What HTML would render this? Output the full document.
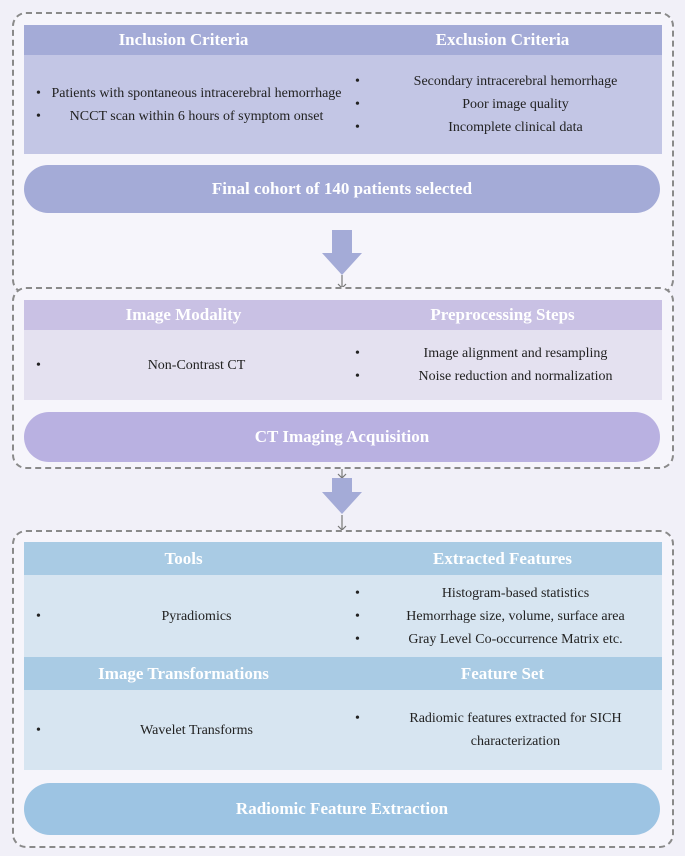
<!DOCTYPE html>
<html><head><style>
body{margin:0;width:685px;height:856px;background:#f1f0f8;font-family:"Liberation Serif",serif;position:relative;overflow:hidden}
.d{position:absolute;border:2px dashed #8a8a8a;border-radius:14px;background:#f6f5fb}
.a{position:absolute;left:24px;width:638px}
.h{color:#fff;font-weight:bold;font-size:17px;display:flex}
.h div{width:50%;text-align:center}
.b{font-size:14px;color:#222;display:flex}
.c{width:50%;position:relative;display:flex;flex-direction:column;justify-content:center;text-align:center;line-height:23px}
.li{position:relative;padding-left:26px}
.li:before{content:"•";position:absolute;left:12px}
.p{position:absolute;left:24px;width:636px;border-radius:26px;color:#fff;font-weight:bold;font-size:17px;display:flex;align-items:center;justify-content:center}
</style></head><body>
<div class="d" style="left:12px;top:12px;width:658px;height:278px"></div>
<div class="a h" style="top:25px;height:30px;background:#a4abd7;align-items:center"><div>Inclusion Criteria</div><div>Exclusion Criteria</div></div>
<div class="a b" style="top:55px;height:99px;background:#c3c6e5">
<div class="c"><div class="li">Patients with spontaneous intracerebral hemorrhage</div><div class="li">NCCT scan within 6 hours of symptom onset</div></div>
<div class="c"><div class="li">Secondary intracerebral hemorrhage</div><div class="li">Poor image quality</div><div class="li">Incomplete clinical data</div></div></div>
<div class="p" style="top:165px;height:48px;background:#a4abd7">Final cohort of 140 patients selected</div>

<svg style="position:absolute;left:0;top:0" width="685" height="856">
<g stroke="#777" fill="none" stroke-width="1.2"><line x1="342" y1="292" x2="342" y2="305"/><path d="M338 301l4 4 4-4"/><line x1="342" y1="275" x2="342" y2="288"/><path d="M338 284l4 4 4-4"/>
<line x1="342" y1="467" x2="342" y2="478"/><path d="M338 474l4 4 4-4"/><line x1="342" y1="515" x2="342" y2="530"/><path d="M338 526l4 4 4-4"/></g>
<path d="M332 230h20v23h10l-20 22-20-22h10z" fill="#a4abd7"/>
<path d="M332 478h20v14h10l-20 22-20-22h10z" fill="#a4abd7"/>
</svg>

<div class="d" style="left:12px;top:287px;width:658px;height:178px"></div>
<div class="a h" style="top:300px;height:30px;background:#c9c1e4;align-items:center"><div>Image Modality</div><div>Preprocessing Steps</div></div>
<div class="a b" style="top:330px;height:70px;background:#e4e1f0">
<div class="c"><div class="li">Non-Contrast CT</div></div>
<div class="c"><div class="li">Image alignment and resampling</div><div class="li">Noise reduction and normalization</div></div></div>
<div class="p" style="top:412px;height:50px;background:#b9b1e1">CT Imaging Acquisition</div>

<div class="d" style="left:12px;top:530px;width:658px;height:314px"></div>
<div class="a h" style="top:542px;height:33px;background:#a9cbe4;align-items:center"><div>Tools</div><div>Extracted Features</div></div>
<div class="a b" style="top:575px;height:82px;background:#d7e5f1">
<div class="c"><div class="li">Pyradiomics</div></div>
<div class="c"><div class="li">Histogram-based statistics</div><div class="li">Hemorrhage size, volume, surface area</div><div class="li">Gray Level Co-occurrence Matrix etc.</div></div></div>
<div class="a h" style="top:657px;height:33px;background:#a9cbe4;align-items:center"><div>Image Transformations</div><div>Feature Set</div></div>
<div class="a b" style="top:690px;height:80px;background:#d7e5f1">
<div class="c"><div class="li">Wavelet Transforms</div></div>
<div class="c"><div class="li">Radiomic features extracted for SICH characterization</div></div></div>
<div class="p" style="top:783px;height:52px;background:#9dc4e3">Radiomic Feature Extraction</div>
</body></html>
